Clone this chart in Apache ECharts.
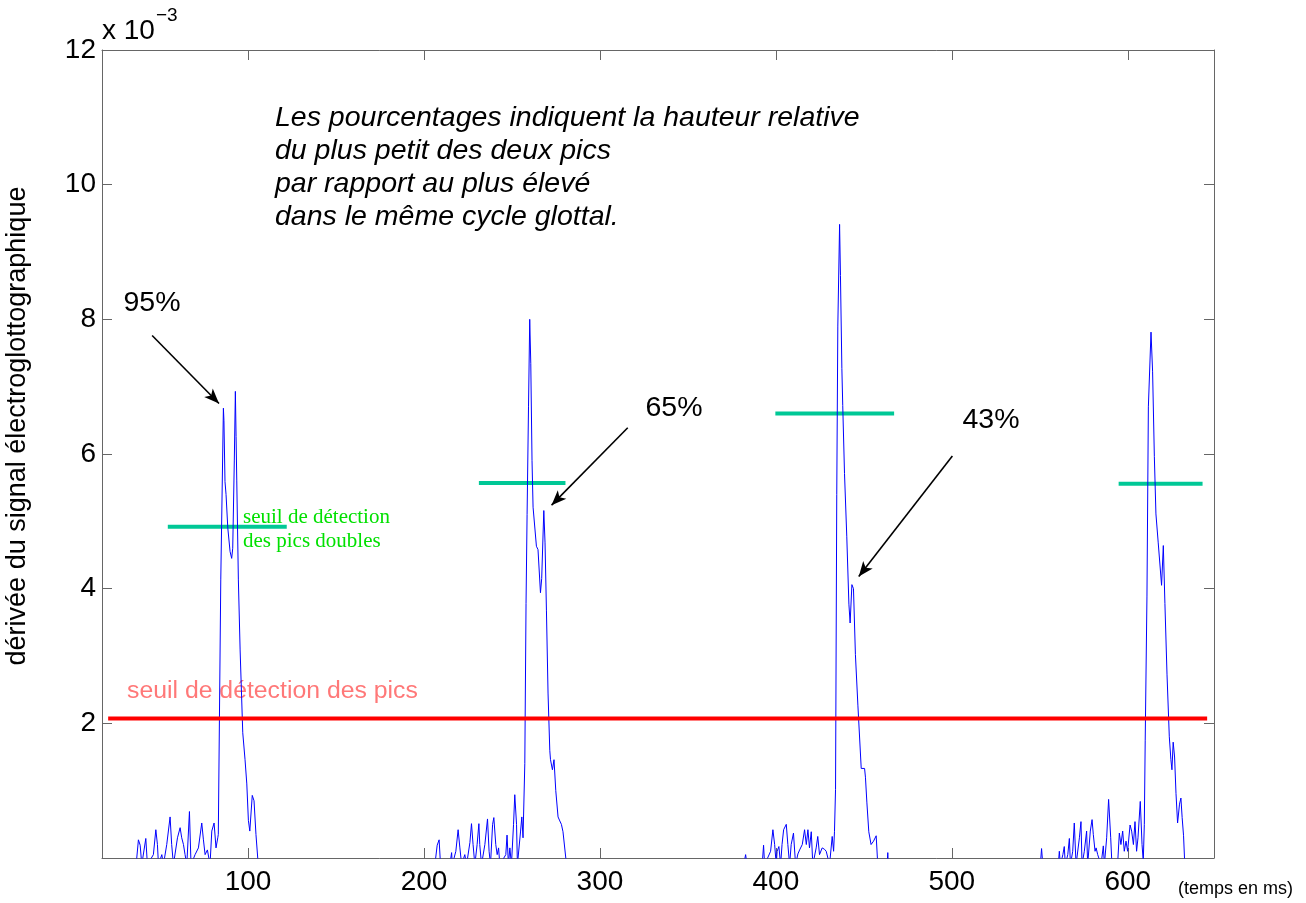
<!DOCTYPE html>
<html>
<head>
<meta charset="utf-8">
<script src="https://cdn.jsdelivr.net/npm/echarts@6/dist/echarts.min.js"></script>
<style>html,body{margin:0;padding:0;background:#fff}#c{width:1306px;height:903px}</style>
</head>
<body>
<div id="c"></div>
<script>
// ---- data (values in units of 1e-3) ----
const xTicks = [100, 200, 300, 400, 500, 600];
const yTicks = [2, 4, 6, 8, 10, 12];
const cycle1 = [[36.4,-0.1],[37.7,0.27],[38.7,0.19],[39.6,-0.1],[40.7,-0.1],[41.9,0.29],[42.8,-0.1],[46.2,0.05],[47.6,0.42],[48.5,0.2],[49.1,-0.1],[51.0,0.05],[51.9,-0.1],[53.8,0.2],[55.7,0.61],[56.6,0.2],[57.6,-0.1],[59.9,0.3],[61.4,0.45],[62.3,0.3],[63.3,0.2],[64.2,0.05],[65.2,-0.1],[66.7,0.69],[67.6,-0.1],[69.9,0.05],[71.8,0.15],[73.7,0.52],[74.6,0.28],[75.6,0.05],[76.9,0.12],[78.4,-0.1],[79.4,0.4],[80.7,0.52],[81.8,0.15],[82.8,0.3],[83.1,0.35],[84.5,4.13],[86.0,6.68],[86.3,6.5],[86.9,5.59],[87.5,5.4],[88.5,4.9],[89.8,4.55],[90.7,4.45],[91.3,4.6],[92.2,5.91],[92.8,6.93],[93.2,6.26],[93.6,5.6],[94.5,4.13],[95.5,3.09],[97.0,1.86],[98.3,1.46],[99.3,1.1],[100.2,0.56],[101.0,0.4],[102.4,0.93],[103.4,0.85],[104.5,0.35],[105.8,-0.1]];
const cycle2 = [[206.2,-0.1],[207.5,0.19],[208.6,0.27],[209.4,-0.1],[214.7,-0.1],[215.7,0.08],[216.1,-0.1],[218.1,0.1],[219.4,0.42],[220.4,0.15],[221.4,-0.1],[223.2,0.05],[224.2,-0.1],[226.1,0.23],[227.0,0.51],[227.9,0.2],[228.9,-0.1],[230.2,0.2],[231.2,0.51],[231.7,0.2],[232.7,-0.1],[234.6,0.2],[236.1,0.58],[237.0,0.1],[237.8,-0.1],[239.0,0.5],[239.7,0.6],[240.8,0.2],[241.6,0.05],[242.4,0.15],[243.1,-0.1],[246.5,0.05],[247.2,0.34],[248.0,-0.1],[248.8,0.15],[249.7,-0.1],[250.9,0.5],[251.6,0.94],[252.6,0.5],[253.1,-0.1],[254.9,0.4],[255.6,0.61],[256.3,0.3],[256.7,0.3],[257.3,1.4],[258.0,3.78],[258.6,5.1],[259.4,6.7],[260.1,8.0],[260.7,7.34],[261.4,5.9],[262.0,5.21],[262.8,5.21],[263.9,4.63],[264.8,4.58],[266.2,3.94],[266.9,4.15],[268.1,5.16],[268.8,4.68],[269.6,3.67],[270.5,2.45],[271.5,1.6],[271.9,1.46],[273.0,1.31],[273.9,1.46],[274.9,1.0],[276.2,0.61],[277.2,0.55],[278.1,0.5],[279.0,0.39],[281.0,-0.1]];
const cycle3 = [[381.7,-0.1],[382.8,0.05],[383.6,-0.1],[392.2,-0.1],[393.0,0.19],[393.6,-0.1],[397.0,0.1],[398.3,0.42],[399.3,0.2],[400.2,-0.1],[400.7,0.1],[401.7,0.17],[402.7,-0.1],[403.5,0.2],[404.4,0.42],[405.9,0.5],[406.8,0.2],[407.8,-0.1],[408.7,0.2],[410.0,0.37],[411.2,-0.1],[412.5,0.06],[413.5,0.12],[415.0,0.2],[416.3,0.42],[417.3,0.2],[418.2,0.42],[419.1,0.15],[420.1,0.39],[421.0,-0.1],[422.9,0.15],[423.8,0.32],[424.8,0.05],[426.3,0.15],[427.6,0.13],[428.6,0.1],[430.5,-0.1],[432.0,0.32],[432.8,0.1],[433.3,0.39],[433.9,1.02],[434.6,5.4],[435.2,7.9],[436.2,9.41],[436.7,8.65],[437.5,7.27],[438.0,6.72],[439.0,5.71],[440.3,4.77],[441.5,3.77],[442.2,3.49],[443.2,4.06],[444.1,4.0],[445.2,3.02],[446.6,2.27],[448.5,1.33],[450.4,1.33],[450.9,1.2],[451.7,0.83],[452.8,0.39],[454.1,0.2],[455.5,0.25],[457.0,0.33],[457.9,-0.1],[463.2,-0.1],[463.6,0.08],[463.9,-0.1]];
const cycle4 = [[550.3,-0.1],[551.0,0.14],[551.7,-0.1],[560.5,-0.1],[561.1,0.1],[561.7,-0.1],[563.1,0.05],[563.9,0.17],[564.5,-0.1],[565.9,0.05],[566.8,0.29],[567.4,-0.1],[568.7,0.1],[569.6,0.52],[570.6,-0.1],[572.5,0.3],[573.4,0.54],[574.0,-0.1],[575.3,0.1],[576.6,0.4],[577.2,-0.1],[578.7,0.4],[579.7,0.57],[580.4,0.35],[581.4,0.1],[582.0,0.15],[582.9,0.05],[583.8,0.07],[584.8,-0.1],[586.1,0.18],[586.7,-0.1],[588.0,0.3],[589.1,0.87],[590.3,0.3],[591.0,-0.1],[594.2,-0.1],[595.2,0.37],[596.1,0.2],[597.1,0.4],[598.0,0.1],[599.0,0.25],[599.9,0.1],[601.3,0.49],[602.2,0.4],[603.2,0.2],[604.1,0.54],[605.0,0.1],[605.8,0.3],[607.1,0.84],[608.1,0.2],[608.8,-0.05],[609.4,0.5],[609.9,1.75],[610.9,3.89],[611.7,6.7],[613.2,7.81],[614.1,7.23],[615.1,5.96],[616.0,5.11],[617.3,4.68],[618.3,4.68],[619.2,4.05],[620.2,4.64],[621.1,3.78],[622.3,2.72],[623.6,1.8],[624.5,1.46],[625.1,1.31],[625.8,1.72],[626.6,1.5],[627.4,0.96],[628.3,0.52],[629.4,0.8],[630.2,0.89],[630.9,0.6],[631.7,0.33],[632.4,-0.1]];
// peak detection threshold (red)
const peakThreshold = { value: 2.07, from: 20.5, to: 645.1 };
// double-peak thresholds (teal)
const doubleThrValue = [4.92, 5.57, 6.6, 5.56];
const doubleThrFrom  = [54.4, 231.2, 399.7, 594.8];
const doubleThrTo    = [122.0, 280.4, 467.2, 642.5];
// annotation arrows: [start, tip] in data coords
const arrows = [
  [[45.5, 7.76], [83.5, 6.75]],
  [[315.8, 6.39], [272.5, 5.24]],
  [[500.3, 5.97], [447.1, 4.18]]
];
const percentLabels = ['95%', '65%', '43%'];

// ---- chart ----
const chart = echarts.init(document.getElementById('c'), null, { renderer: 'canvas' });
const FONT = '"Liberation Sans", Arial, Helvetica, sans-serif';
const AXC = '#666';

const signal = [].concat(cycle1, cycle2, cycle3, cycle4);

const series = [];
series.push({
  type: 'line', data: signal, showSymbol: false, symbol: 'none', clip: true,
  lineStyle: { color: '#0000ff', width: 1 }, z: 3, silent: true, animation: false
});
series.push({
  type: 'line', data: [[peakThreshold.from, peakThreshold.value], [peakThreshold.to, peakThreshold.value]],
  showSymbol: false, symbol: 'none', lineStyle: { color: '#ff0000', width: 4 }, z: 4, silent: true, animation: false
});
doubleThrValue.forEach((v, i) => {
  series.push({
    type: 'line', data: [[doubleThrFrom[i], v], [doubleThrTo[i], v]],
    showSymbol: false, symbol: 'none', lineStyle: { color: '#00c896', width: 4 }, z: 2, silent: true, animation: false
  });
});
series.push({
  type: 'line', data: [], silent: true, animation: false,
  markLine: {
    silent: true, animation: false,
    symbol: ['none', 'arrow'], symbolSize: [9, 15],
    lineStyle: { color: '#000', width: 1.6, type: 'solid' },
    label: { show: false },
    emphasis: { disabled: true },
    data: arrows.map(a => [{ coord: a[0] }, { coord: a[1] }])
  }
});

const gx = (v) => v; // placeholder (not used for marks)

const option = {
  animation: false,
  backgroundColor: '#fff',
  grid: { left: 102, right: 92, top: 50, bottom: 45, containLabel: false },
  xAxis: [{
    type: 'value', min: 17, max: 649, position: 'bottom',
    axisLine: { show: true, onZero: false, lineStyle: { color: AXC, width: 1 } },
    axisTick: { show: true, inside: true, length: 10, customValues: xTicks, lineStyle: { color: AXC } },
    axisLabel: { show: true, customValues: xTicks, margin: 10, color: '#000', fontSize: 28, fontFamily: FONT },
    splitLine: { show: false }
  }, {
    type: 'value', min: 17, max: 649, position: 'top',
    axisLine: { show: true, onZero: false, lineStyle: { color: AXC, width: 1 } },
    axisTick: { show: true, inside: true, length: 10, customValues: xTicks, lineStyle: { color: AXC } },
    axisLabel: { show: false }, splitLine: { show: false }
  }],
  yAxis: [{
    type: 'value', min: 0, max: 12, interval: 2, position: 'left',
    axisLine: { show: true, onZero: false, lineStyle: { color: AXC, width: 1 } },
    axisTick: { show: true, inside: true, length: 10, customValues: yTicks, lineStyle: { color: AXC } },
    axisLabel: { show: true, customValues: yTicks, margin: 6, color: '#000', fontSize: 28, fontFamily: FONT },
    splitLine: { show: false }
  }, {
    type: 'value', min: 0, max: 12, interval: 2, position: 'right',
    axisLine: { show: true, onZero: false, lineStyle: { color: AXC, width: 1 } },
    axisTick: { show: true, inside: true, length: 10, customValues: yTicks, lineStyle: { color: AXC } },
    axisLabel: { show: false }, splitLine: { show: false }
  }],
  series: series,
  graphic: [
    { type: 'text', x: 102, y: 31, style: { text: 'x 10', font: '28px ' + FONT, fill: '#000', align: 'left', verticalAlign: 'middle' } },
    { type: 'text', x: 156, y: 16, style: { text: '\u22123', font: '19px ' + FONT, fill: '#000', align: 'left', verticalAlign: 'middle' } },
    { type: 'text', x: 275, y: 101, style: { text: 'Les pourcentages indiquent la hauteur relative\ndu plus petit des deux pics\npar rapport au plus \u00e9lev\u00e9\ndans le m\u00eame cycle glottal.', font: 'italic 28.5px ' + FONT, lineHeight: 33.3, fill: '#000', align: 'left', verticalAlign: 'top' } },
    { type: 'text', x: 152, y: 303, style: { text: percentLabels[0], font: '28.5px ' + FONT, fill: '#000', align: 'center', verticalAlign: 'middle' } },
    { type: 'text', x: 674, y: 408, style: { text: percentLabels[1], font: '28.5px ' + FONT, fill: '#000', align: 'center', verticalAlign: 'middle' } },
    { type: 'text', x: 991, y: 420, style: { text: percentLabels[2], font: '28.5px ' + FONT, fill: '#000', align: 'center', verticalAlign: 'middle' } },
    { type: 'text', x: 243, y: 505, z: 10, style: { text: 'seuil de d\u00e9tection\ndes pics doubles', font: '21px "Liberation Serif", "Times New Roman", serif', lineHeight: 24, fill: '#00e000', align: 'left', verticalAlign: 'top' } },
    { type: 'text', x: 127, y: 691, style: { text: 'seuil de d\u00e9tection des pics', font: '24.8px ' + FONT, fill: '#ff7878', align: 'left', verticalAlign: 'middle' } },
    { type: 'text', x: 18, y: 426, rotation: Math.PI / 2, style: { text: 'd\u00e9riv\u00e9e du signal \u00e9lectroglottographique', font: '27px ' + FONT, fill: '#000', align: 'center', verticalAlign: 'middle' } },
    { type: 'text', x: 1178, y: 889, style: { text: '(temps en ms)', font: '18px ' + FONT, fill: '#000', align: 'left', verticalAlign: 'middle' } }
  ]
};
chart.setOption(option);
</script>
</body>
</html>
